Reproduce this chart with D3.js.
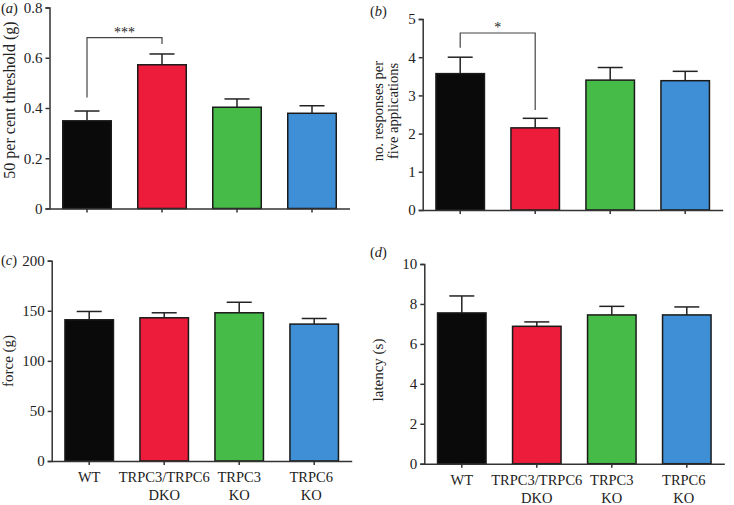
<!DOCTYPE html>
<html><head><meta charset="utf-8">
<script src="https://cdnjs.cloudflare.com/ajax/libs/d3/7.8.5/d3.min.js"></script>
<style>body{margin:0;background:#fff}svg{display:block}text{font-family:"Liberation Serif","Times New Roman",serif;fill:#222}</style>
</head><body>
<script>
const categories = ["WT", "TRPC3/TRPC6\nDKO", "TRPC3\nKO", "TRPC6\nKO"];
const colors = ["#0a0a0a", "#ec1c3a", "#47bb47", "#3f8fd6"];
const valuesA = [0.349, 0.572, 0.403, 0.379];
const errorsA = [0.388, 0.615, 0.436, 0.409];
const valuesB = [3.57, 2.15, 3.40, 3.385];
const errorsB = [4.00, 2.40, 3.73, 3.63];
const valuesC = [141, 143, 148, 136.7];
const errorsC = [149.3, 148, 158.5, 142.3];
const valuesD = [7.55, 6.88, 7.45, 7.45];
const errorsD = [8.4, 7.1, 7.88, 7.85];
const ticksA = [0, 0.2, 0.4, 0.6, 0.8];
const ticksB = [0, 1, 2, 3, 4, 5];
const ticksC = [0, 50, 100, 150, 200];
const ticksD = [0, 2, 4, 6, 8, 10];

const svg = d3.select("body").append("svg").attr("width", 734).attr("height", 505);

function panel(o) {
  const g = svg.append("g");
  const x = d3.scaleBand().domain(categories).range([o.x0, o.x0 + 300]).paddingInner(1/3).paddingOuter(1/6);
  const y = d3.scaleLinear().domain([0, o.max]).range([o.y1, o.y0]);
  g.selectAll("rect.bar").data(o.values).join("rect")
    .attr("x", (d, i) => x(categories[i]) + 0.75)
    .attr("width", x.bandwidth() - 1.5)
    .attr("y", d => y(d))
    .attr("height", d => y(0) - y(d))
    .attr("fill", (d, i) => colors[i])
    .attr("stroke", "#1a1a1a").attr("stroke-width", 1.5);
  o.values.forEach((v, i) => {
    const cx = x(categories[i]) + x.bandwidth() / 2;
    g.append("line").attr("x1", cx).attr("x2", cx).attr("y1", y(v)).attr("y2", y(o.errors[i]))
      .attr("stroke", "#222").attr("stroke-width", 1.5);
    g.append("line").attr("x1", cx - 12.5).attr("x2", cx + 12.5).attr("y1", y(o.errors[i])).attr("y2", y(o.errors[i]))
      .attr("stroke", "#222").attr("stroke-width", 1.5);
  });
  const ya = g.append("g").attr("transform", `translate(${o.x0},0)`)
    .call(d3.axisLeft(y).tickValues(o.ticks).tickSize(4).tickPadding(3).tickFormat(o.fmt));
  ya.select(".domain").attr("stroke", "#333").attr("stroke-width", 1.5);
  ya.selectAll(".tick line").attr("stroke", "#333").attr("stroke-width", 1.5);
  ya.selectAll(".tick text").style("font-family", "Liberation Serif").style("font-size", "15px").attr("fill", "#222");
  const xa = g.append("g").attr("transform", `translate(0,${o.y1})`)
    .call(d3.axisBottom(x).tickSize(4).tickSizeOuter(0).tickFormat(""));
  xa.select(".domain").attr("stroke", "#333").attr("stroke-width", 1.5);
  xa.selectAll(".tick line").attr("stroke", "#333").attr("stroke-width", 1.5);
  if (o.xlabels) {
    categories.forEach((c, i) => {
      const cx = x(c) + x.bandwidth() / 2 + (o.xshift ? o.xshift[i] : 0);
      c.split("\n").forEach((ln, j) => {
        g.append("text").attr("x", cx).attr("y", o.y1 + 21 + j * 18).attr("text-anchor", "middle")
          .style("font-size", "14.5px").text(ln);
      });
    });
  }
  o.ylabel.forEach((ln, j) => {
    g.append("text").attr("transform", `translate(${o.ylx + j * 15},${o.yly}) rotate(-90)`)
      .attr("text-anchor", "middle").style("font-size", o.ylfs || "15px").text(ln);
  });
  const t = g.append("text").attr("x", o.lx).attr("y", o.ly).style("font-size", "14.5px");
  t.append("tspan").text("(");
  t.append("tspan").style("font-style", "italic").text(o.letter);
  t.append("tspan").text(")");
  if (o.sig) {
    const s = o.sig;
    const xa1 = x(categories[s.a]) + x.bandwidth() / 2, xb1 = x(categories[s.b]) + x.bandwidth() / 2;
    g.append("path").attr("d", `M${xa1},${s.ya}V${s.top}H${xb1}V${s.yb}`)
      .attr("fill", "none").attr("stroke", "#444").attr("stroke-width", 1.2);
    g.append("text").attr("x", (xa1 + xb1) / 2).attr("y", s.top - 1).attr("text-anchor", "middle")
      .style("font-size", "14px").attr("fill", "#555").text(s.label);
  }
}

panel({x0: 49.5, y0: 7.5, y1: 208.5, max: 0.8, values: valuesA, errors: errorsA, ticks: ticksA,
  fmt: d => d === 0 ? "0" : d3.format(".1f")(d), ylabel: ["50 per cent threshold (g)"], ylx: 15, yly: 100, ylfs: "16px",
  letter: "a", lx: 1, ly: 13, sig: {a: 0, b: 1, ya: 97.5, yb: 44, top: 37.7, label: "***"}});
panel({x0: 422.7, y0: 19, y1: 210, max: 5, values: valuesB, errors: errorsB, ticks: ticksB,
  fmt: d3.format("d"), ylabel: ["no. responses per", "five applications"], ylx: 383, yly: 111, ylfs: "14.5px",
  letter: "b", lx: 370, ly: 16, sig: {a: 0, b: 1, ya: 47.7, yb: 110, top: 33, label: "*"}});
panel({x0: 51.7, y0: 260.7, y1: 461, max: 200, values: valuesC, errors: errorsC, ticks: ticksC,
  fmt: d3.format("d"), ylabel: ["force (g)"], ylx: 13, yly: 361, xlabels: true, xshift: [0, 0, 0, -3],
  letter: "c", lx: 1, ly: 265});
panel({x0: 424.3, y0: 264, y1: 463.7, max: 10, values: valuesD, errors: errorsD, ticks: ticksD,
  fmt: d3.format("d"), ylabel: ["latency (s)"], ylx: 383, yly: 370, xlabels: true, xshift: [0, 0, 0, -3],
  letter: "d", lx: 370, ly: 257});
</script>
</body></html>
